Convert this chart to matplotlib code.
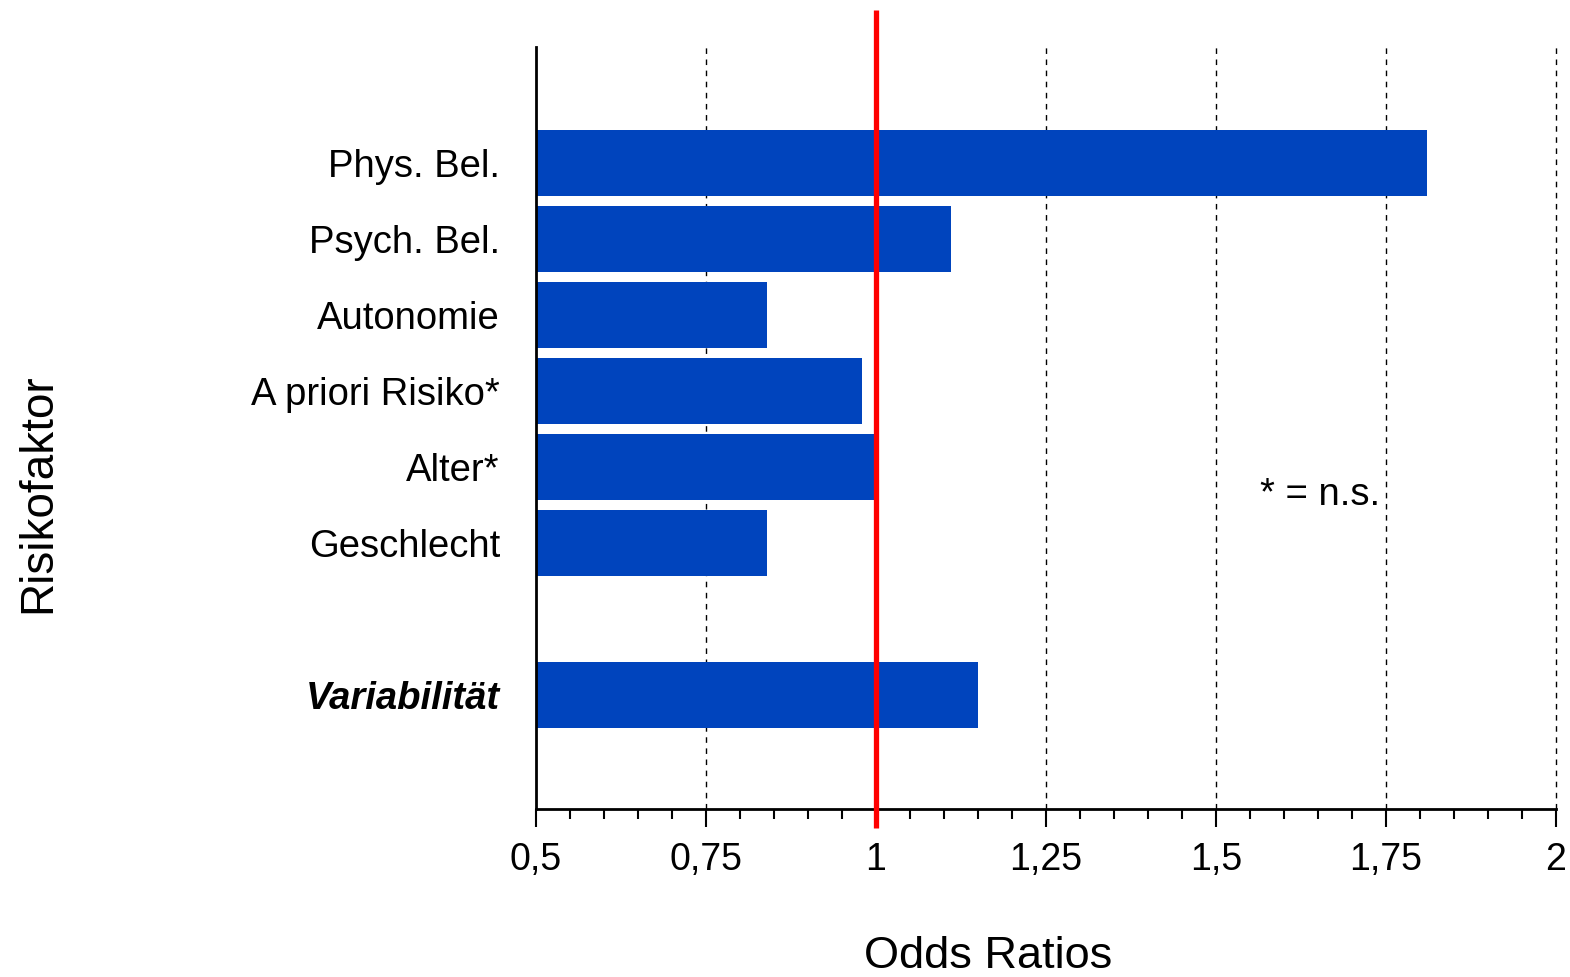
import matplotlib
matplotlib.use("Agg")
import matplotlib.pyplot as plt
from matplotlib.ticker import MultipleLocator, FixedLocator

plt.rcParams['font.family'] = ['Liberation Sans', 'DejaVu Sans']

categories = ["Phys. Bel.", "Psych. Bel.", "Autonomie", "A priori Risiko*",
              "Alter*", "Geschlecht", "Variabilität"]
positions = [0, 1, 2, 3, 4, 5, 7]
odds_ratios = [1.81, 1.11, 0.84, 0.98, 1.00, 0.84, 1.15]
xticks = [0.5, 0.75, 1.0, 1.25, 1.5, 1.75, 2.0]
xtick_labels = ["0,5", "0,75", "1", "1,25", "1,5", "1,75", "2"]
grid_at = [0.75, 1.25, 1.5, 1.75, 2.0]
reference_value = 1.0

W, H = 1570, 977
fig = plt.figure(figsize=(W / 100, H / 100), dpi=100)
ax = fig.add_axes([536 / W, 1 - 809 / H, (1556 - 536) / W, (809 - 47) / H])

bar_color = "#0044BD"
ax.barh(positions, [v - 0.5 for v in odds_ratios], left=0.5, height=0.87,
        color=bar_color, edgecolor="none", zorder=2)

ax.set_xlim(0.5, 2.0)
ax.set_ylim(8.5, -1.53)

for g in grid_at:
    ax.axvline(g, color="black", lw=1.0, linestyle=(0, (4, 4)), zorder=1,
               clip_on=False)

ax.plot([reference_value, reference_value], [8.75, -2.02], color="#FF0000",
        lw=3.8, clip_on=False, zorder=5, solid_capstyle="butt")

ax.spines["top"].set_visible(False)
ax.spines["right"].set_visible(False)
ax.spines["left"].set_linewidth(2.0)
ax.spines["bottom"].set_linewidth(2.0)

ax.xaxis.set_major_locator(FixedLocator(xticks))
ax.set_xticklabels(xtick_labels)
ax.xaxis.set_minor_locator(MultipleLocator(0.05))
ax.tick_params(axis="x", which="major", direction="out", length=13, width=1.5,
               labelsize=27, pad=11)
ax.tick_params(axis="x", which="minor", direction="out", length=7, width=1.5)

ax.set_yticks(positions)
ax.set_yticklabels(categories)
ax.tick_params(axis="y", length=0, labelsize=27.5, pad=26)
for lbl in ax.get_yticklabels():
    if lbl.get_text() == "Variabilität":
        lbl.set_fontweight("bold")
        lbl.set_fontstyle("italic")

fig.text(988 / W, 1 - 956 / H, "Odds Ratios", fontsize=32.5, ha="center", va="center")
fig.text(38 / W, 1 - 493 / H, "Risikofaktor", fontsize=33, ha="center", va="center",
         rotation=90)
ax.text(1.565, 4.37, "* = n.s.", fontsize=27.5, ha="left", va="center")

fig.savefig("out.png", dpi=100, facecolor="white")
